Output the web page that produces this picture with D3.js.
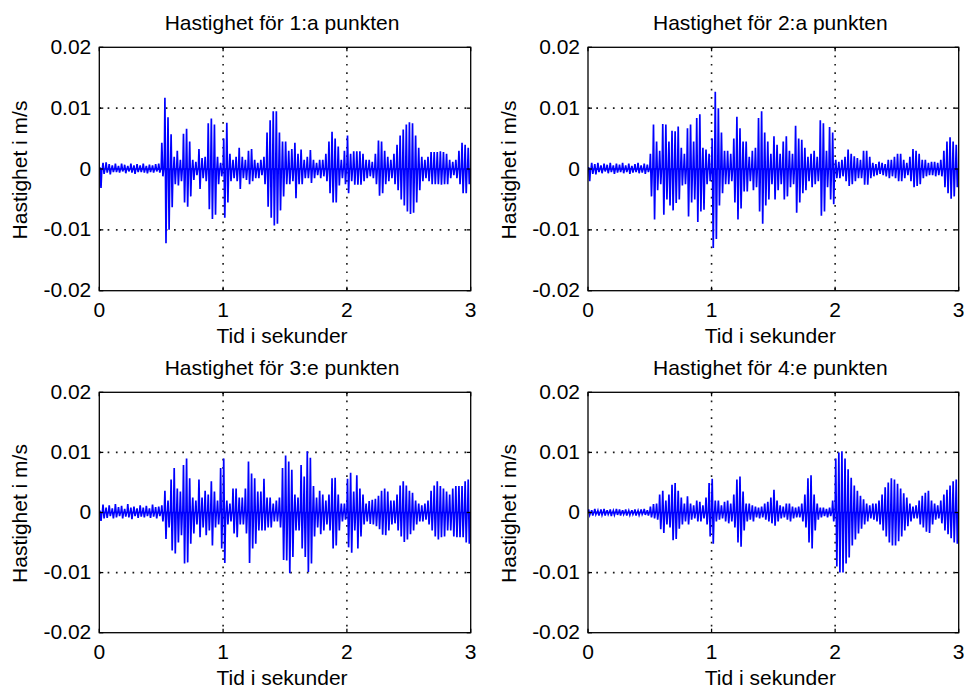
<!DOCTYPE html>
<html>
<head>
<meta charset="utf-8">
<script src="https://cdn.jsdelivr.net/npm/d3@7"></script>
<style>
  body { margin: 0; background: #fff; }
  svg { display: block; }
  text { font-family: Arial, "Liberation Sans", sans-serif; fill: #000; }
</style>
</head>
<body>
<svg id="fig" width="964" height="688"></svg>
<script>
// ---- data -------------------------------------------------------------
const titles = [
  "Hastighet för 1:a punkten",
  "Hastighet för 2:a punkten",
  "Hastighet för 3:e punkten",
  "Hastighet för 4:e punkten"
];
const xLabel = "Tid i sekunder";
const yLabel = "Hastighet i m/s";
const xTicks = [0, 1, 2, 3];
const xTickLabels = ["0", "1", "2", "3"];
const yTicks = [-0.02, -0.01, 0, 0.01, 0.02];
const yTickLabels = ["-0.02", "-0.01", "0", "0.01", "0.02"];

// Oscillation peaks, one every spikeStep seconds starting at t = 0.
// up = positive peak, dn = magnitude of the following negative peak, in mm/s.
const spikeStep = 0.025;

const up1 = [
  0.3,1.0,1.1,0.8,0.6,0.9,0.5,0.9,0.7,0.5, 0.9,0.6,0.8,0.6,0.9,0.5,0.7,0.6,0.8,0.9,
  4.3,11.7,8.5,5.7,2.0,3.0,1.5,5.8,6.6,4.5, 1.5,1.2,3.3,1.8,2.0,7.5,8.3,7.3,2.0,1.0,
  5.0,7.6,2.5,1.5,2.0,3.5,2.0,1.5,3.0,3.3, 1.5,1.0,1.5,2.0,6.0,8.0,9.5,9.5,6.0,4.5,
  4.5,3.0,3.3,4.3,2.5,3.2,1.5,2.0,3.1,1.5, 1.0,1.5,1.5,2.5,4.5,6.1,5.0,3.7,1.5,3.0,
  5.5,2.5,2.9,2.9,2.9,2.5,1.5,1.5,1.2,2.5, 4.7,4.5,3.0,2.0,1.5,2.5,4.0,5.5,6.5,7.3,
  7.7,7.5,5.5,3.5,2.0,1.5,2.0,2.8,2.8,2.8, 2.9,2.8,2.5,1.5,1.2,1.5,3.0,4.3,4.0,3.5
];
const dn1 = [
  3.1,0.8,0.6,0.9,0.5,0.5,0.6,0.4,0.7,0.4, 0.6,0.8,0.5,0.5,0.6,0.7,0.5,0.6,0.4,0.6,
  1.2,12.2,10.0,6.3,2.5,2.7,2.0,5.5,6.2,4.5, 1.8,1.0,3.3,1.5,2.0,6.6,8.2,7.5,2.5,1.2,
  8.0,5.5,2.0,1.5,2.0,3.3,1.5,1.8,2.5,2.0, 1.5,1.5,1.0,2.5,6.2,8.0,9.3,9.0,6.8,4.5,
  2.5,2.5,2.0,4.8,2.5,2.5,1.5,1.5,2.3,1.5, 1.0,1.5,1.2,2.0,4.0,5.5,5.5,2.7,1.5,2.5,
  4.0,2.0,2.6,2.6,2.6,2.0,1.5,1.2,1.5,2.5, 4.4,4.0,2.5,2.0,1.5,2.5,3.5,5.0,6.0,7.0,
  7.4,7.2,5.5,3.5,2.0,1.5,2.0,2.5,2.5,2.5, 2.6,2.5,2.5,1.5,1.0,1.5,2.5,4.0,4.0,2.5
];

const up2 = [
  0.3,1.0,0.8,1.0,0.6,0.9,0.7,1.0,0.6,0.9, 0.7,1.0,0.6,0.9,0.5,0.8,1.0,0.6,0.9,0.7,
  2.5,7.3,4.5,3.0,7.4,7.3,4.5,6.3,6.2,7.0, 3.5,2.5,6.7,7.3,4.5,8.4,9.0,3.5,3.2,2.5,
  5.0,12.7,10.0,6.0,3.0,3.0,2.5,5.0,8.6,6.7, 4.5,4.5,2.0,3.0,3.5,8.4,9.5,6.0,4.5,2.5,
  5.4,4.0,2.5,4.5,5.4,3.0,2.5,7.1,5.0,4.8, 3.5,2.0,2.5,3.0,2.0,8.0,7.5,3.0,6.9,6.0,
  1.5,1.2,1.5,2.0,3.2,2.5,2.1,1.8,1.5,3.0, 3.0,2.0,1.0,0.8,1.2,1.0,0.8,1.5,1.5,2.0,
  2.5,2.5,1.5,1.0,2.0,3.3,3.0,2.5,1.5,1.5, 1.0,1.2,1.2,1.0,1.5,3.0,4.5,5.2,4.5,4.0
];
const dn2 = [
  2.0,0.8,0.9,0.5,0.7,0.4,0.7,0.5,0.8,0.6, 0.5,0.7,0.5,0.8,0.6,0.5,0.7,0.6,0.8,0.5,
  4.5,8.3,3.5,2.5,7.5,5.0,6.0,6.8,5.6,5.0, 2.7,2.5,7.8,5.5,5.0,8.7,7.0,6.7,2.5,2.0,
  13.0,11.5,6.0,4.0,2.5,2.5,2.0,5.5,8.3,6.5, 3.7,3.7,2.0,3.5,3.0,7.0,9.0,6.0,5.0,2.5,
  5.0,3.5,2.5,5.0,4.5,3.0,2.5,7.2,5.5,4.0, 3.5,2.0,3.0,2.5,2.0,7.7,7.0,3.0,5.0,5.8,
  1.5,1.5,1.2,2.0,2.8,2.5,2.0,1.5,1.5,2.6, 2.6,1.5,1.2,1.0,0.8,1.0,1.2,1.5,1.2,1.5,
  2.0,2.0,1.5,1.0,2.0,3.0,2.8,2.5,1.5,1.2, 1.0,1.0,1.2,1.0,1.2,3.0,4.0,4.9,4.5,3.0
];

const up3 = [
  0.3,1.3,0.8,1.2,0.7,1.4,0.9,1.1,0.6,1.4, 0.8,1.0,0.7,1.2,0.8,1.1,0.7,1.3,0.9,1.0,
  1.2,3.6,2.0,5.5,7.4,4.0,3.5,7.9,9.0,5.7, 2.5,2.0,5.5,2.5,3.6,3.0,5.2,3.5,2.0,7.4,
  9.0,2.0,1.5,4.0,4.0,2.5,2.5,4.0,8.5,6.5, 5.7,3.5,3.5,5.6,2.5,2.5,1.5,2.0,2.5,7.4,
  9.5,8.5,7.1,3.0,2.5,7.9,6.0,10.2,9.1,4.4, 2.5,3.6,3.0,2.0,3.0,5.7,5.8,3.0,1.5,1.5,
  5.6,6.6,3.5,6.2,4.0,3.0,1.5,1.9,2.1,2.3, 2.8,3.6,4.0,3.5,2.0,2.0,3.0,4.5,5.2,4.5,
  3.6,3.3,2.0,1.5,1.2,1.5,2.0,3.6,4.5,5.2, 4.4,4.0,3.5,3.0,4.0,4.4,4.4,4.4,5.2,5.5
];
const dn3 = [
  1.4,1.0,0.9,0.6,1.0,0.8,0.6,1.0,0.7,0.8, 1.1,0.6,0.9,0.7,0.8,0.6,0.9,0.7,1.0,0.6,
  1.5,4.4,2.5,6.3,6.8,5.0,3.8,8.5,8.3,5.2, 3.5,2.0,4.1,2.5,3.8,3.0,5.5,2.5,2.0,6.0,
  8.4,2.0,1.5,3.5,4.1,2.0,2.0,3.5,8.4,6.0, 5.2,3.0,3.0,3.0,2.5,2.5,1.5,1.5,2.5,7.9,
  8.0,10.1,7.4,3.0,3.0,6.0,7.4,9.9,8.5,4.0, 2.5,3.6,3.0,2.0,3.0,6.0,5.5,3.0,1.5,1.2,
  5.8,6.7,3.0,6.0,4.0,2.0,1.5,1.9,2.0,2.3, 2.8,3.7,3.8,3.0,2.0,1.8,3.0,4.0,4.9,4.5,
  3.6,3.0,2.0,1.5,1.5,1.2,2.0,3.0,4.0,4.5, 4.1,4.0,3.0,3.0,4.0,4.1,4.1,4.1,5.0,5.2
];

const up4 = [
  0.5,0.4,0.6,0.3,0.5,0.6,0.4,0.5,0.3,0.6, 0.5,0.4,0.5,0.3,0.4,0.5,0.3,0.5,0.6,0.4,
  1.0,1.4,1.5,3.0,3.6,2.0,3.0,4.6,4.9,3.6, 2.5,1.5,2.7,1.5,1.2,2.0,1.8,1.2,2.5,4.9,
  5.6,2.0,2.0,1.2,1.8,2.0,1.5,3.0,5.5,6.0, 3.5,1.5,1.5,1.2,1.0,0.8,1.0,1.5,1.8,2.5,
  3.8,2.0,1.2,1.0,1.5,1.5,1.0,0.8,1.0,1.5, 3.0,5.7,6.2,3.0,1.5,0.8,0.8,0.6,0.8,2.0,
  9.0,10.0,10.2,9.0,7.2,5.8,4.5,3.6,2.8,2.2, 1.5,1.2,1.5,1.5,2.0,3.0,4.2,5.0,5.7,5.5,
  4.8,4.0,3.2,2.5,1.5,1.0,1.2,2.0,2.8,3.3, 3.6,2.0,1.5,1.2,2.0,3.0,3.8,4.5,5.2,5.5
];
const dn4 = [
  0.4,0.5,0.3,0.5,0.4,0.5,0.3,0.6,0.4,0.4, 0.5,0.3,0.5,0.4,0.3,0.5,0.4,0.3,0.4,0.5,
  0.8,1.0,1.2,2.8,3.4,2.0,2.5,4.6,4.4,2.7, 2.0,1.5,2.0,1.2,1.0,1.5,1.5,1.0,2.0,4.0,
  5.2,1.5,1.2,1.0,1.5,1.8,1.5,2.5,5.0,5.7, 3.0,1.5,1.2,1.5,0.8,1.0,0.8,1.2,1.5,1.8,
  2.2,1.5,1.0,0.8,1.2,1.5,1.0,0.8,0.8,1.5, 2.5,5.0,6.0,3.0,1.2,0.8,0.6,0.8,0.6,1.5,
  9.0,10.0,10.0,8.5,7.5,5.5,4.5,3.5,2.7,2.0, 1.5,1.0,1.2,1.5,2.0,3.0,4.0,5.0,5.5,5.5,
  4.8,4.0,3.0,2.3,1.5,1.0,1.0,2.0,2.5,3.2, 3.4,2.0,1.2,1.0,1.8,3.0,3.6,4.3,5.0,5.2
];

// ---- layout -----------------------------------------------------------
const panels = [
  { title: titles[0], up: up1, dn: dn1, left: 99.3, top: 47.3,  width: 371.4, height: 243.4 },
  { title: titles[1], up: up2, dn: dn2, left: 588,  top: 47.3,  width: 370.7, height: 243.4 },
  { title: titles[2], up: up3, dn: dn3, left: 99.3, top: 392.3, width: 371.4, height: 240.4 },
  { title: titles[3], up: up4, dn: dn4, left: 588,  top: 392.3, width: 370.7, height: 240.4 }
];

const svg = d3.select("#fig");
const fontSize = 21;
const tickLen = 4;

// Each peak pair becomes a short up/down stroke returning to zero.
function tracePoints(up, dn) {
  const pts = [];
  up.forEach((u, k) => {
    const t = k * spikeStep;
    pts.push([t, 0]);
    pts.push([t + spikeStep * 0.2, u / 1000]);
    pts.push([t + spikeStep * 0.55, -dn[k] / 1000]);
    pts.push([t + spikeStep * 0.8, 0]);
  });
  return pts;
}

panels.forEach((p, i) => {
  const x = d3.scaleLinear().domain([0, 3]).range([p.left, p.left + p.width]);
  const y = d3.scaleLinear().domain([-0.02, 0.02]).range([p.top + p.height, p.top]);
  const g = svg.append("g");

  const clipId = "clip" + i;
  svg.append("clipPath").attr("id", clipId)
    .append("rect").attr("x", p.left).attr("y", p.top)
    .attr("width", p.width).attr("height", p.height);

  // dotted grid
  const grid = g.append("g")
    .attr("stroke", "#1a1a1a").attr("stroke-width", 1.6)
    .attr("stroke-dasharray", "1.7,6.6");
  grid.selectAll("line.gx").data(xTicks.slice(1, -1)).join("line")
    .attr("x1", d => x(d)).attr("x2", d => x(d))
    .attr("y1", p.top).attr("y2", p.top + p.height);
  grid.selectAll("line.gy").data(yTicks.slice(1, -1)).join("line")
    .attr("y1", d => y(d)).attr("y2", d => y(d))
    .attr("x1", p.left).attr("x2", p.left + p.width);

  // signal
  const line = d3.line().x(d => x(d[0])).y(d => y(d[1]));
  g.append("path")
    .datum(tracePoints(p.up, p.dn))
    .attr("clip-path", `url(#${clipId})`)
    .attr("fill", "none")
    .attr("stroke", "#0000ff")
    .attr("stroke-width", 1.7)
    .attr("stroke-linejoin", "miter")
    .attr("d", line);

  // box
  g.append("rect")
    .attr("x", p.left).attr("y", p.top)
    .attr("width", p.width).attr("height", p.height)
    .attr("fill", "none").attr("stroke", "#000").attr("stroke-width", 1.3);

  // inward ticks on all four sides
  const ticks = g.append("g").attr("stroke", "#000").attr("stroke-width", 1.3);
  xTicks.forEach(v => {
    ticks.append("line").attr("x1", x(v)).attr("x2", x(v))
      .attr("y1", p.top + p.height).attr("y2", p.top + p.height - tickLen);
    ticks.append("line").attr("x1", x(v)).attr("x2", x(v))
      .attr("y1", p.top).attr("y2", p.top + tickLen);
  });
  yTicks.forEach(v => {
    ticks.append("line").attr("y1", y(v)).attr("y2", y(v))
      .attr("x1", p.left).attr("x2", p.left + tickLen);
    ticks.append("line").attr("y1", y(v)).attr("y2", y(v))
      .attr("x1", p.left + p.width).attr("x2", p.left + p.width - tickLen);
  });

  // tick labels
  g.selectAll("text.xt").data(xTicks).join("text")
    .attr("class", "xt")
    .attr("x", d => x(d)).attr("y", p.top + p.height + 26)
    .attr("text-anchor", "middle").attr("font-size", fontSize)
    .text((d, j) => xTickLabels[j]);
  g.selectAll("text.yt").data(yTicks).join("text")
    .attr("class", "yt")
    .attr("x", p.left - 8).attr("y", d => y(d) + 6.5)
    .attr("text-anchor", "end").attr("font-size", fontSize)
    .text((d, j) => yTickLabels[j]);

  const cx = p.left + p.width / 2 - 3;
  // title
  g.append("text")
    .attr("x", cx).attr("y", p.top - 17.3)
    .attr("text-anchor", "middle").attr("font-size", fontSize)
    .text(p.title);
  // x label
  g.append("text")
    .attr("x", cx).attr("y", p.top + p.height + 52.6)
    .attr("text-anchor", "middle").attr("font-size", fontSize)
    .text(xLabel);
  // y label
  g.append("text")
    .attr("transform", `translate(${p.left - 72.3},${p.top + p.height / 2 + 1}) rotate(-90)`)
    .attr("text-anchor", "middle").attr("font-size", fontSize)
    .text(yLabel);
});
</script>
</body>
</html>
